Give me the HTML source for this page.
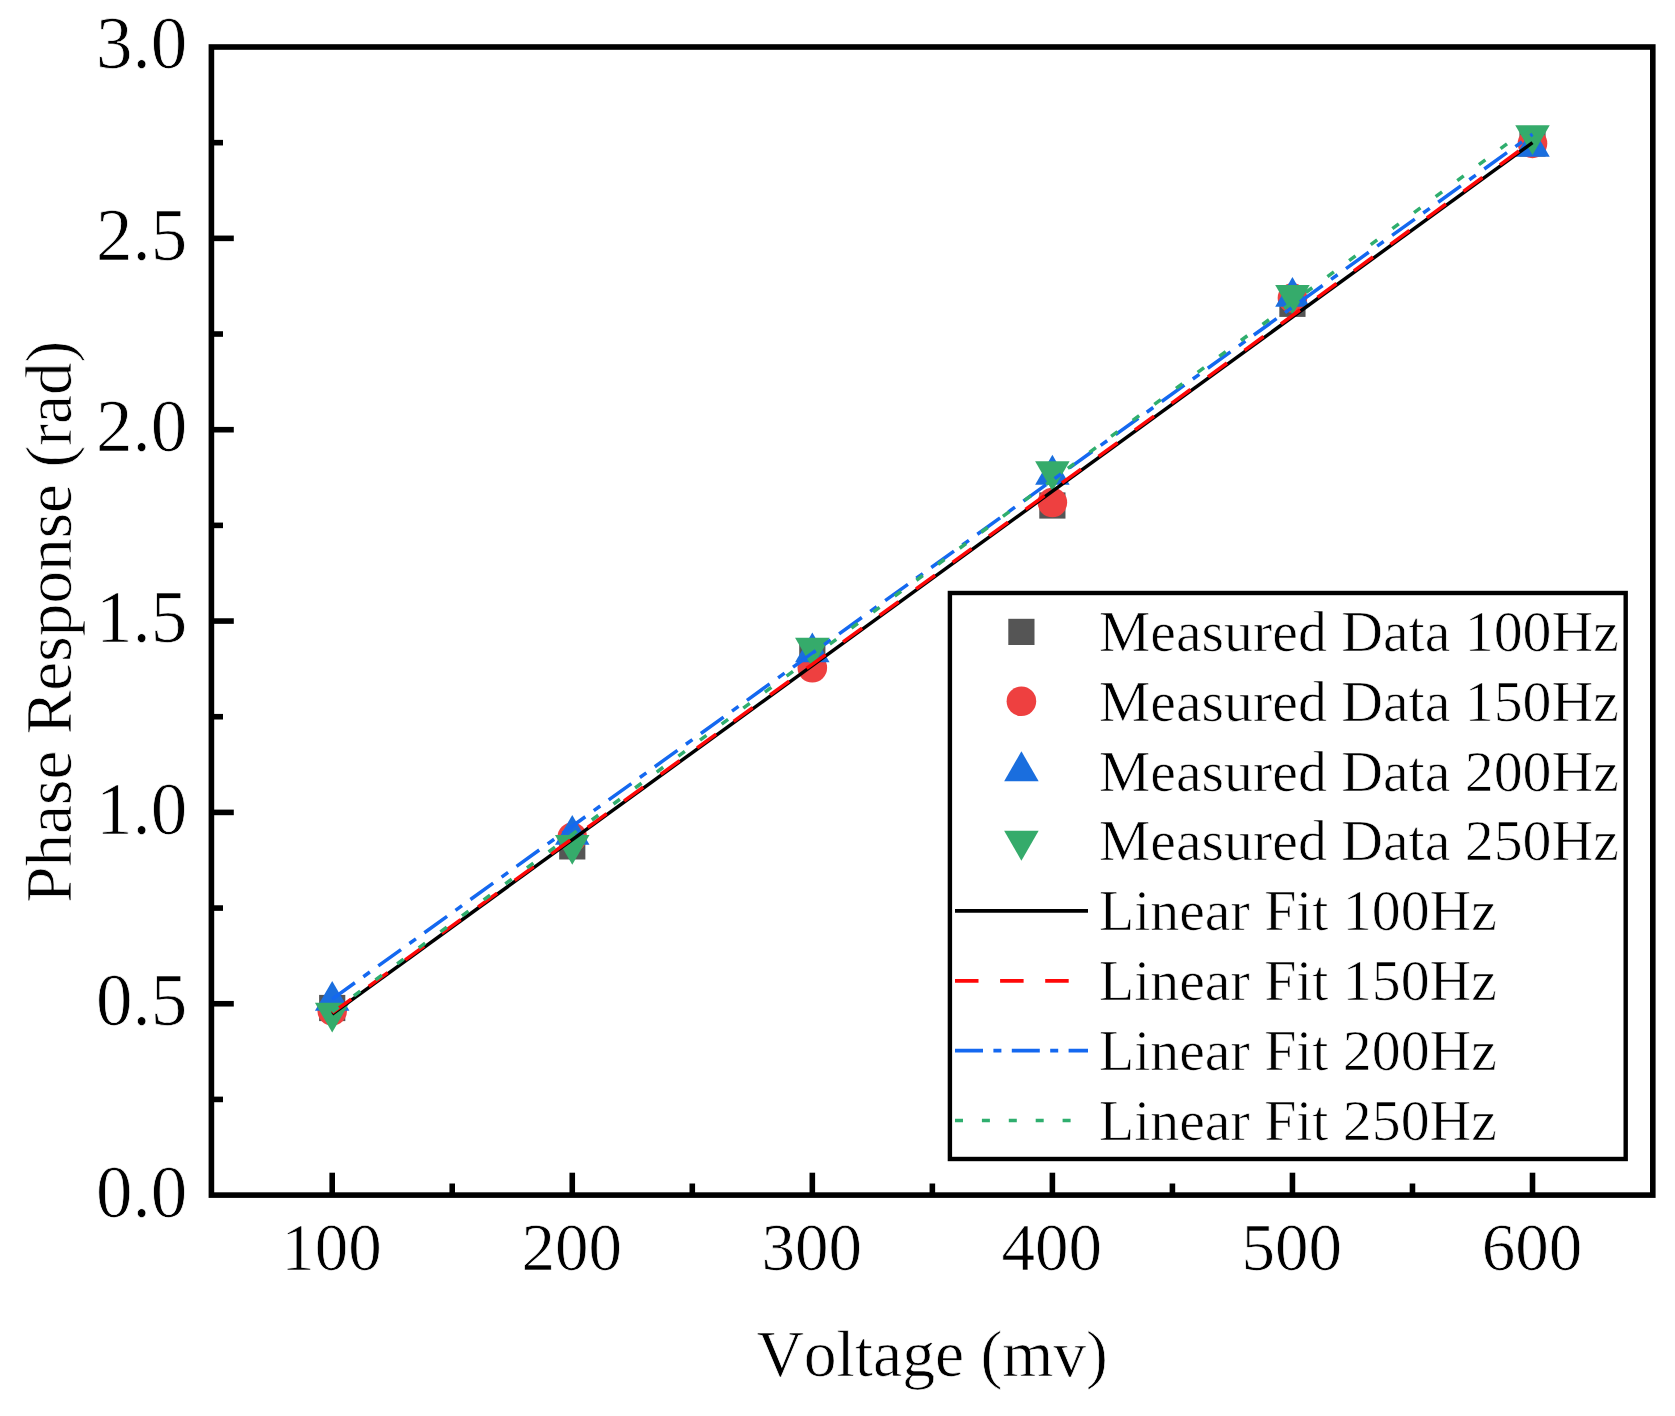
<!DOCTYPE html>
<html lang="en"><head><meta charset="utf-8"><title>Phase Response vs Voltage</title>
<style>html,body{margin:0;padding:0;background:#fff;}body{width:1675px;height:1416px;overflow:hidden;}svg{display:block;}text{font-family:'Liberation Serif', serif;fill:#000;font-kerning:none;font-variant-ligatures:none;stroke:#fff;stroke-width:0.7px;paint-order:fill stroke;}</style></head><body>
<svg width="1675" height="1416" viewBox="0 0 1675 1416">
<rect x="0" y="0" width="1675" height="1416" fill="#ffffff"/>
<g id="scatter">
<rect x="319.10" y="994.90" width="26.20" height="26.20" fill="#555555"/>
<rect x="559.16" y="833.30" width="26.20" height="26.20" fill="#555555"/>
<rect x="799.22" y="641.90" width="26.20" height="26.20" fill="#555555"/>
<rect x="1039.28" y="492.40" width="26.20" height="26.20" fill="#555555"/>
<rect x="1279.34" y="290.70" width="26.20" height="26.20" fill="#555555"/>
<rect x="1519.40" y="130.40" width="26.20" height="26.20" fill="#555555"/>
<circle cx="332.20" cy="1010.80" r="14.80" fill="#EE4040"/>
<circle cx="572.26" cy="837.20" r="14.80" fill="#EE4040"/>
<circle cx="812.32" cy="667.70" r="14.80" fill="#EE4040"/>
<circle cx="1052.38" cy="502.50" r="14.80" fill="#EE4040"/>
<circle cx="1292.44" cy="298.00" r="14.80" fill="#EE4040"/>
<circle cx="1532.50" cy="143.40" r="14.80" fill="#EE4040"/>
<polygon points="332.20,980.88 314.95,1010.76 349.45,1010.76" fill="#1A6EDE"/>
<polygon points="572.26,814.88 555.01,844.76 589.51,844.76" fill="#1A6EDE"/>
<polygon points="812.32,632.38 795.07,662.26 829.57,662.26" fill="#1A6EDE"/>
<polygon points="1052.38,454.78 1035.13,484.66 1069.63,484.66" fill="#1A6EDE"/>
<polygon points="1292.44,276.98 1275.19,306.86 1309.69,306.86" fill="#1A6EDE"/>
<polygon points="1532.50,126.88 1515.25,156.76 1549.75,156.76" fill="#1A6EDE"/>
<polygon points="332.20,1032.62 314.95,1002.74 349.45,1002.74" fill="#35AB6B"/>
<polygon points="572.26,864.82 555.01,834.94 589.51,834.94" fill="#35AB6B"/>
<polygon points="812.32,667.52 795.07,637.64 829.57,637.64" fill="#35AB6B"/>
<polygon points="1052.38,491.22 1035.13,461.34 1069.63,461.34" fill="#35AB6B"/>
<polygon points="1292.44,314.82 1275.19,284.94 1309.69,284.94" fill="#35AB6B"/>
<polygon points="1532.50,155.12 1515.25,125.24 1549.75,125.24" fill="#35AB6B"/>
</g>
<g id="fits" fill="none" stroke-width="3.5">
<line x1="332.20" y1="1014.08" x2="1532.50" y2="142.67" stroke="#000000"/>
<line x1="332.20" y1="1012.93" x2="1532.50" y2="141.14" stroke="#FF0808" stroke-dasharray="23.5 21.6"/>
<line x1="332.20" y1="999.16" x2="1532.50" y2="134.26" stroke="#1468F0" stroke-dasharray="28 10.4 8 10.4"/>
<line x1="332.20" y1="1011.79" x2="1532.50" y2="125.07" stroke="#2FAE6E" stroke-dasharray="8 18.9"/>
</g>
<g id="axes" stroke="#000" fill="none">
<rect x="211.40" y="47.00" width="1441.40" height="1148.10" stroke-width="5.60"/>
<line x1="211.40" y1="1099.42" x2="223.00" y2="1099.42" stroke-width="5.60"/>
<line x1="211.40" y1="1003.75" x2="233.80" y2="1003.75" stroke-width="5.60"/>
<line x1="211.40" y1="908.07" x2="223.00" y2="908.07" stroke-width="5.60"/>
<line x1="211.40" y1="812.40" x2="233.80" y2="812.40" stroke-width="5.60"/>
<line x1="211.40" y1="716.72" x2="223.00" y2="716.72" stroke-width="5.60"/>
<line x1="211.40" y1="621.05" x2="233.80" y2="621.05" stroke-width="5.60"/>
<line x1="211.40" y1="525.37" x2="223.00" y2="525.37" stroke-width="5.60"/>
<line x1="211.40" y1="429.70" x2="233.80" y2="429.70" stroke-width="5.60"/>
<line x1="211.40" y1="334.02" x2="223.00" y2="334.02" stroke-width="5.60"/>
<line x1="211.40" y1="238.35" x2="233.80" y2="238.35" stroke-width="5.60"/>
<line x1="211.40" y1="142.67" x2="223.00" y2="142.67" stroke-width="5.60"/>
<line x1="332.20" y1="1195.10" x2="332.20" y2="1172.70" stroke-width="5.60"/>
<line x1="452.23" y1="1195.10" x2="452.23" y2="1183.50" stroke-width="5.60"/>
<line x1="572.26" y1="1195.10" x2="572.26" y2="1172.70" stroke-width="5.60"/>
<line x1="692.29" y1="1195.10" x2="692.29" y2="1183.50" stroke-width="5.60"/>
<line x1="812.32" y1="1195.10" x2="812.32" y2="1172.70" stroke-width="5.60"/>
<line x1="932.35" y1="1195.10" x2="932.35" y2="1183.50" stroke-width="5.60"/>
<line x1="1052.38" y1="1195.10" x2="1052.38" y2="1172.70" stroke-width="5.60"/>
<line x1="1172.41" y1="1195.10" x2="1172.41" y2="1183.50" stroke-width="5.60"/>
<line x1="1292.44" y1="1195.10" x2="1292.44" y2="1172.70" stroke-width="5.60"/>
<line x1="1412.47" y1="1195.10" x2="1412.47" y2="1183.50" stroke-width="5.60"/>
<line x1="1532.50" y1="1195.10" x2="1532.50" y2="1172.70" stroke-width="5.60"/>
</g>
<g id="ylabels" font-size="73.00" text-anchor="end">
<text x="187.30" y="1216.50">0.0</text>
<text x="187.30" y="1025.15">0.5</text>
<text x="187.30" y="833.80">1.0</text>
<text x="187.30" y="642.45">1.5</text>
<text x="187.30" y="451.10">2.0</text>
<text x="187.30" y="259.75">2.5</text>
<text x="187.30" y="68.40">3.0</text>
</g>
<g id="xlabels" font-size="67.00" text-anchor="middle">
<text x="331.60" y="1270.20">100</text>
<text x="571.66" y="1270.20">200</text>
<text x="811.72" y="1270.20">300</text>
<text x="1051.78" y="1270.20">400</text>
<text x="1291.84" y="1270.20">500</text>
<text x="1531.90" y="1270.20">600</text>
</g>
<text id="xtitle" x="932.20" y="1376.00" font-size="65.60" text-anchor="middle">Voltage (mv)</text>
<text id="ytitle" transform="translate(70.60 621.80) rotate(-90)" font-size="65.30" text-anchor="middle">Phase Response (rad)</text>
<g id="legend">
<rect x="949.90" y="593.00" width="675.80" height="566.00" fill="#fff" stroke="#000" stroke-width="4.4"/>
<rect x="1008.30" y="618.80" width="26.20" height="26.20" fill="#555555"/>
<circle cx="1021.40" cy="701.30" r="14.80" fill="#EE4040"/>
<polygon points="1021.40,751.28 1004.15,781.16 1038.65,781.16" fill="#1A6EDE"/>
<polygon points="1021.40,860.72 1004.15,830.84 1038.65,830.84" fill="#35AB6B"/>
<line x1="955.0" y1="910.90" x2="1088.0" y2="910.90" stroke="#000000" stroke-width="3.7"/>
<line x1="955.0" y1="980.90" x2="1088.0" y2="980.90" stroke="#FF0808" stroke-width="3.7" stroke-dasharray="23.5 21.6"/>
<line x1="955.0" y1="1050.70" x2="1088.0" y2="1050.70" stroke="#1468F0" stroke-width="3.7" stroke-dasharray="28 10.4 8 10.4"/>
<line x1="955.0" y1="1120.50" x2="1088.0" y2="1120.50" stroke="#2FAE6E" stroke-width="3.7" stroke-dasharray="8 18.9"/>
<g font-size="57.80">
<text x="1098.90" y="650.60">Measured Data 100Hz</text>
<text x="1098.90" y="720.55">Measured Data 150Hz</text>
<text x="1098.90" y="790.50">Measured Data 200Hz</text>
<text x="1098.90" y="860.45">Measured Data 250Hz</text>
<text x="1098.90" y="930.40">Linear Fit 100Hz</text>
<text x="1098.90" y="1000.35">Linear Fit 150Hz</text>
<text x="1098.90" y="1070.30">Linear Fit 200Hz</text>
<text x="1098.90" y="1140.25">Linear Fit 250Hz</text>
</g>
</g>
</svg></body></html>
